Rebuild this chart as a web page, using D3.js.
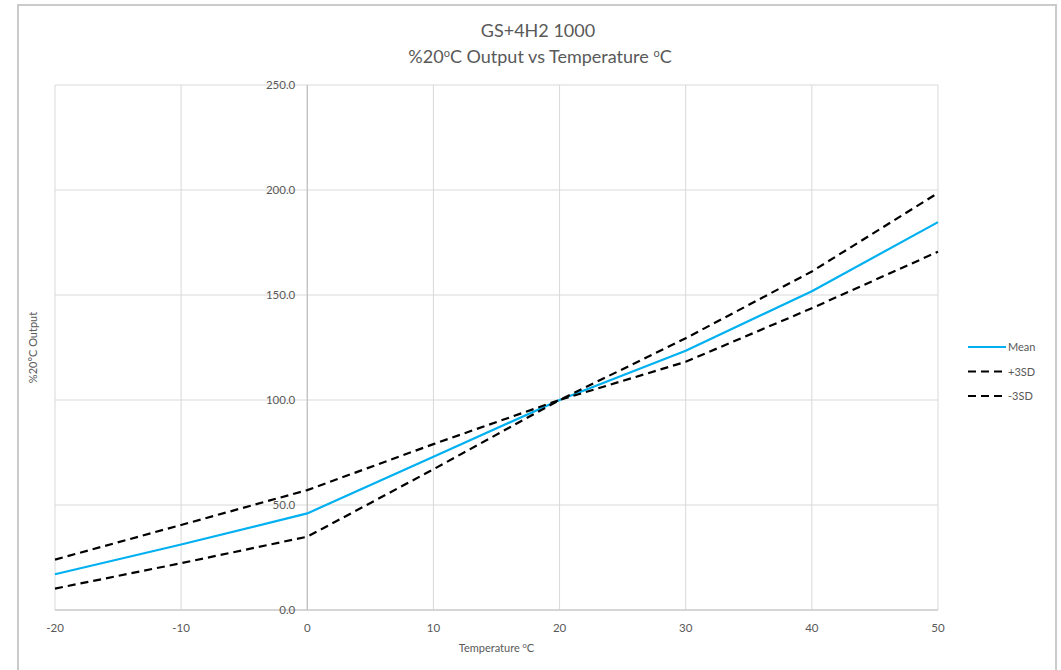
<!DOCTYPE html>
<html>
<head>
<meta charset="utf-8">
<script src="https://cdn.jsdelivr.net/npm/d3@7"></script>
<style>
  body { margin: 0; background: #fff; }
  text { font-family: Lato, "Open Sans", sans-serif; fill: #595959; }
</style>
</head>
<body>
<div id="chart"></div>
<script>
// Data
const temps = [-20, -10, 0, 10, 20, 30, 40, 50];
const meanVals = [17.0, 31.2, 46.0, 73.0, 100.0, 123.5, 151.8, 184.7];
const plusVals = [24.0, 40.5, 57.1, 79.0, 100.0, 129.4, 161.2, 198.6];
const minusVals = [10.2, 22.3, 34.9, 67.0, 100.0, 118.2, 143.7, 170.6];
const xTicks = [-20, -10, 0, 10, 20, 30, 40, 50];
const yTicks = [0, 50, 100, 150, 200, 250];

const series = [
  {name: "Mean", values: meanVals, color: "#00b0f0", dash: null},
  {name: "+3SD", values: plusVals, color: "#000000", dash: "8,5"},
  {name: "-3SD", values: minusVals, color: "#000000", dash: "8,5"}
];

let w = 1061;
let h = 670;

let svg = d3.select("#chart")
  .append("svg")
  .attr("width", w)
  .attr("height", h);

// chart frame (runs past the bottom of the window)
svg.append("rect")
  .attr("x", 18).attr("y", 5)
  .attr("width", 1038).attr("height", 720)
  .attr("fill", "#fff")
  .attr("stroke", "#c6c6c6")
  .attr("stroke-width", 1.8);

let x = d3.scaleLinear().domain([-20, 50]).range([55, 938]);
let y = d3.scaleLinear().domain([0, 250]).range([610, 85]);

// gridlines
svg.append("g")
  .selectAll("line")
  .data(xTicks)
  .join("line")
  .attr("x1", d => x(d)).attr("x2", d => x(d))
  .attr("y1", y(0)).attr("y2", y(250))
  .attr("stroke", "#d9d9d9").attr("stroke-width", 1);

svg.append("g")
  .selectAll("line")
  .data(yTicks)
  .join("line")
  .attr("x1", x(-20)).attr("x2", x(50))
  .attr("y1", d => y(d)).attr("y2", d => y(d))
  .attr("stroke", "#d9d9d9").attr("stroke-width", 1);

// axis lines (crossing at x=0, y=0)
svg.append("line")
  .attr("x1", x(0)).attr("x2", x(0))
  .attr("y1", y(0)).attr("y2", y(250))
  .attr("stroke", "#bfbfbf").attr("stroke-width", 1.2);
svg.append("line")
  .attr("x1", x(-20)).attr("x2", x(50))
  .attr("y1", y(0)).attr("y2", y(0))
  .attr("stroke", "#bfbfbf").attr("stroke-width", 1.2);

// tick labels
svg.append("g")
  .selectAll("text")
  .data(xTicks)
  .join("text")
  .attr("x", d => x(d))
  .attr("y", 632)
  .attr("text-anchor", "middle")
  .attr("font-size", 11.5)
  .text(d => d);

svg.append("g")
  .selectAll("text")
  .data(yTicks)
  .join("text")
  .attr("x", x(0) - 12)
  .attr("y", d => y(d) + 4)
  .attr("text-anchor", "end")
  .attr("font-size", 11.5)
  .text(d3.format(".1f"));

// lines
let line = d3.line()
  .x((d, i) => x(temps[i]))
  .y(d => y(d));

svg.append("g")
  .selectAll("path")
  .data(series)
  .join("path")
  .attr("d", d => line(d.values))
  .attr("fill", "none")
  .attr("stroke", d => d.color)
  .attr("stroke-width", 2.2)
  .attr("stroke-dasharray", d => d.dash);

// titles
svg.append("text")
  .attr("x", 538).attr("y", 37)
  .attr("text-anchor", "middle")
  .attr("font-size", 18)
  .text("GS+4H2 1000");

let t2 = svg.append("text")
  .attr("x", 540).attr("y", 63)
  .attr("text-anchor", "middle")
  .attr("font-size", 18);
t2.append("tspan").text("%20");
t2.append("tspan").attr("font-size", 11).attr("dy", -6).text("o");
t2.append("tspan").attr("dy", 6).text("C Output vs Temperature ");
t2.append("tspan").attr("font-size", 11).attr("dy", -6).text("o");
t2.append("tspan").attr("dy", 6).text("C");

let xt = svg.append("text")
  .attr("x", x(15)).attr("y", 652)
  .attr("text-anchor", "middle")
  .attr("font-size", 11);
xt.append("tspan").text("Temperature ");
xt.append("tspan").attr("font-size", 7.5).attr("dy", -4).text("o");
xt.append("tspan").attr("dy", 4).text("C");

svg.append("text")
  .attr("transform", "translate(37," + y(125) + ") rotate(-90)")
  .attr("text-anchor", "middle")
  .attr("font-size", 11)
  .text("%20°C Output");

// legend
let legend = svg.append("g")
  .selectAll("g")
  .data(series)
  .join("g")
  .attr("transform", (d, i) => "translate(968," + (347 + i * 24.5) + ")");

legend.append("line")
  .attr("x1", 0).attr("x2", 38)
  .attr("stroke", d => d.color)
  .attr("stroke-width", 2.2)
  .attr("stroke-dasharray", d => d.dash);

legend.append("text")
  .attr("x", 40).attr("y", 4)
  .attr("font-size", 11)
  .text(d => d.name);
</script>
</body>
</html>
